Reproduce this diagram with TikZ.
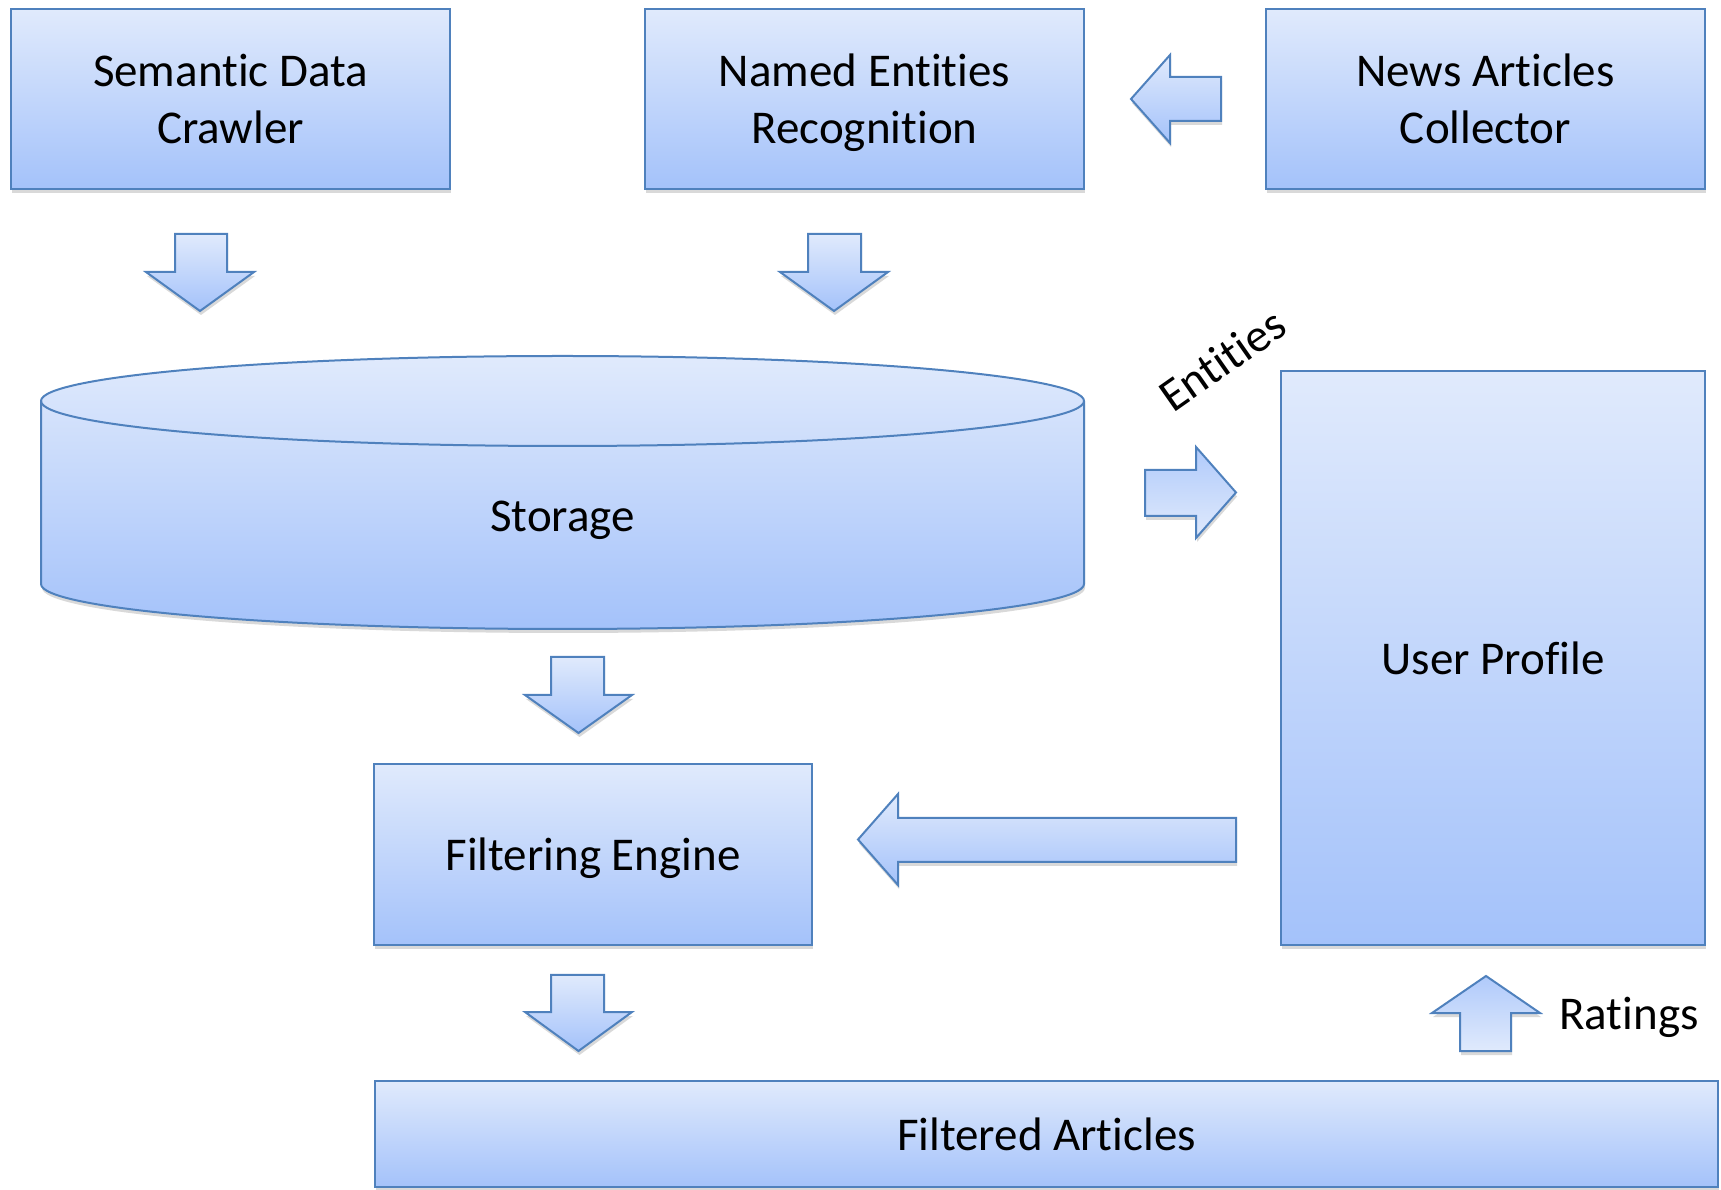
\documentclass[tikz,border=0pt]{standalone}
\usepackage{fontspec}
\setmainfont[Ligatures=NoCommon]{Carlito}
\usetikzlibrary{shadows}
\definecolor{ctop}{HTML}{E0EAFC}
\definecolor{cbot}{HTML}{A4C2FA}
\definecolor{bordc}{HTML}{4F81BD}
\tikzset{
  shad/.style={drop shadow={shadow xshift=1pt, shadow yshift=-4pt, opacity=0.25, fill=black!60}},
  box/.style={draw=bordc, line width=2pt, top color=ctop, bottom color=cbot, shad,
              align=center, inner sep=0pt, text depth=0pt, font=\fontsize{47}{57}\selectfont},
  blk/.style={draw=bordc, line width=2pt, line join=miter, shad},
  down/.style={blk, top color=ctop, bottom color=cbot},
  upward/.style={blk, top color=cbot!80!ctop, bottom color=ctop},
  lbl/.style={font=\fontsize{47}{57}\selectfont, inner sep=0pt}
}
\begin{document}
\begin{tikzpicture}[x=1pt,y=1pt]
\useasboundingbox (0,0) rectangle (1721,1189);
% top row boxes
\node[box, minimum width=439, minimum height=180] (sdc) at (230.5,1090) {Semantic Data\\Crawler};
\node[box, minimum width=439, minimum height=180] (ner) at (864.5,1090) {Named Entities\\Recognition};
\node[box, minimum width=439, minimum height=180] (nac) at (1485.5,1090) {News Articles\\Collector};
% left arrow NAC -> NER
\draw[down] (1131,1090) -- (1170,1134) -- (1170,1112) -- (1221,1112) -- (1221,1068) -- (1170,1068) -- (1170,1046) -- cycle;
% down arrows to storage
\draw[down] (175,955) -- (227,955) -- (227,917) -- (254,917) -- (200,878) -- (146,917) -- (175,917) -- cycle;
\draw[down] (808,955) -- (861,955) -- (861,917) -- (888,917) -- (834,878) -- (780,917) -- (808,917) -- cycle;
% storage cylinder
\draw[blk, top color=ctop, bottom color=cbot]
  (41,788) -- (41,605) arc[start angle=180, end angle=360, x radius=521.5, y radius=45]
  -- (1084,788) arc[start angle=0, end angle=180, x radius=521.5, y radius=45] -- cycle;
\draw[draw=bordc, line width=2pt] (41,788) arc[start angle=180, end angle=360, x radius=521.5, y radius=45];
\node[lbl, text depth=0pt] (storage) at (562.5,673) {Storage};
% entities label and right arrow
\node[lbl, rotate=35] (ent) at (1222,829) {Entities};
\draw[blk, top color=cbot!80!ctop, bottom color=ctop] (1145,719) -- (1196,719) -- (1196,742) -- (1236,696.5) -- (1196,651) -- (1196,673) -- (1145,673) -- cycle;
% user profile
\node[box, minimum width=424, minimum height=574] (up) at (1493,531) {User Profile};
% down arrow storage -> filtering
\draw[down] (551,532) -- (604,532) -- (604,494) -- (632,494) -- (578.5,456) -- (525,494) -- (551,494) -- cycle;
% filtering engine
\node[box, minimum width=438, minimum height=181] (fe) at (593,334.5) {Filtering Engine};
% big left arrow
\draw[down] (858,349.5) -- (898,395) -- (898,371) -- (1236,371) -- (1236,327) -- (898,327) -- (898,304) -- cycle;
% down arrow filtering -> filtered
\draw[down] (551,214) -- (604,214) -- (604,177) -- (632,177) -- (578.5,138) -- (525,177) -- (551,177) -- cycle;
% up arrow ratings
\draw[upward] (1460,138) -- (1511,138) -- (1511,176) -- (1540,176) -- (1486,213) -- (1432,176) -- (1460,176) -- cycle;
\node[lbl, anchor=west, text depth=0pt] (rat) at (1559,176) {Ratings};
% filtered articles
\node[box, minimum width=1343, minimum height=106] (fa) at (1046.5,55) {Filtered Articles};
\end{tikzpicture}
\end{document}
